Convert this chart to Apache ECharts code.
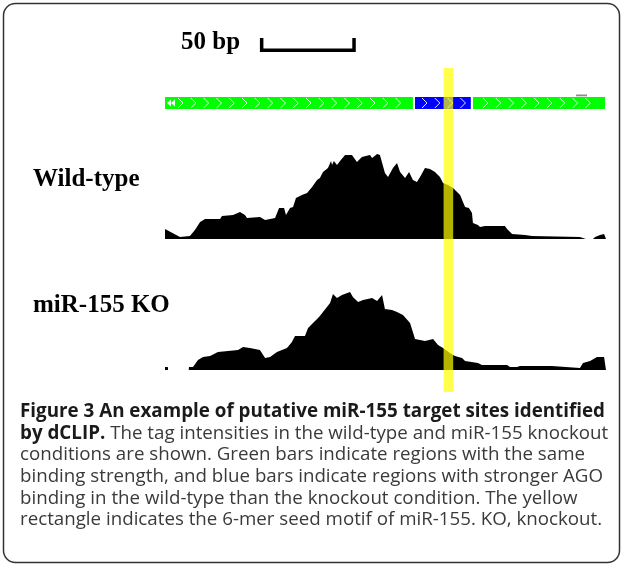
<!DOCTYPE html>
<html><head><meta charset="utf-8">
<script src="https://cdn.jsdelivr.net/npm/echarts@6/dist/echarts.min.js"></script>
<style>html,body{margin:0;padding:0;background:#fff}#c{width:624px;height:566px}</style>
</head><body><div id="c"></div>
<script>
// Region coordinates in bp (0–230), tag intensities (arbitrary units)
const wtPos = [0,7.8,13.0,15.6,18.3,20.9,28.7,29.7,35.5,39.1,41.7,42.8,49.5,52.2,57.4,59.5,62.1,63.1,65.2,66.8,68.3,71.4,74.1,76.7,79.3,80.8,82.4,85.0,86.6,87.1,88.1,89.7,91.3,93.9,97.5,100.1,102.7,106.9,108.0,110.6,112.1,114.7,116.3,118.9,121.0,122.6,125.2,127.3,129.3,131.4,133.0,135.6,138.2,140.8,143.4,145.0,147.6,150.2,153.9,155.4,156.5,158.5,160.1,160.6,163.2,164.3,166.9,177.3,178.4,181.0,187.8,191.4,216.4,219.5,223.2,224.3,226.9,229.0,230];
const wtTags = [10,2,3,9,17,20,20,23,24,27,24,21,22,19,21,31,31,24,31,32,41,44,46,52,59,61,67,71,78,74,78,74,78,84,84,77,82,84,81,85,84,66,62,71,76,67,61,67,59,57,62,71,70,67,62,56,54,51,44,37,32,31,26,16,14,12,13,13,10,5,4,3,2,0,0,2,4,5,5];
const koPos = [0,1.5,1.6,12.4,12.5,14.6,17.2,19.8,23.5,27.6,38.1,40.7,44.3,49.5,52.2,54.8,58.4,63.6,66.2,67.8,73.0,74.6,77.2,79.3,80.8,82.4,86.1,87.6,89.7,92.3,96.5,98.0,100.7,103.3,108.0,110.6,113.2,114.7,118.4,121.0,124.1,127.8,130.4,135.6,139.8,142.4,145.0,148.6,151.2,154.9,156.5,163.2,165.3,178.4,179.9,183.6,185.1,201.8,202.4,216.4,218.0,221.7,225.3,229.0,230];
const koTags = [3,3,0,0,3,3,10,13,14,18,20,23,22,20,12,13,18,22,28,34,34,42,47,51,54,58,67,76,72,75,78,73,68,70,72,69,75,61,60,58,55,47,31,29,31,25,22,17,14,12,9,7,5,5,3,3,4,4,3,2,7,9,13,13,13];
// dCLIP segments (bp): same binding = green, stronger in WT = blue
const segStart = [0, 130.4, 160.6];
const segEnd   = [129.3, 159.5, 229.5];
const segType  = ['same', 'stronger', 'same'];
const markerRange = [214.4, 220.1];
const seedRange = [145.3, 150.3];   // 6-mer seed motif
const scaleBar = [49.5, 99.5];      // 50 bp
const scaleLabel = '50 bp';
const trackLabels = ['Wild-type', 'miR-155 KO'];
const captionBold1 = 'Figure 3 An example of putative miR-155 target sites identified';
const captionBold2 = 'by dCLIP.';
const captionRest2 = ' The tag intensities in the wild-type and miR-155 knockout';
const captionLines = [
  'conditions are shown. Green bars indicate regions with the same',
  'binding strength, and blue bars indicate regions with stronger AGO',
  'binding in the wild-type than the knockout condition. The yellow',
  'rectangle indicates the 6-mer seed motif of miR-155. KO, knockout.'
];

const chart = echarts.init(document.getElementById('c'), null, {renderer: 'canvas'});
const GL = 165, GW = 441;
const grids = [
  {left: GL, width: GW, top: 139, height: 100},
  {left: GL, width: GW, top: 270, height: 100},
  {left: GL, width: GW, top: 97, height: 12},
  {left: GL, width: GW, top: 68, height: 324},
  {left: GL, width: GW, top: 38, height: 14}
];
const xAxes = grids.map((g, i) => ({type: 'value', gridIndex: i, min: 0, max: 230, show: false}));
const yAxes = grids.map((g, i) => ({type: 'value', gridIndex: i, min: 0, max: i < 2 ? 100 : 1, show: false}));

function zip(a, b) { return a.map((v, i) => [v, b[i]]); }

const ctx = document.createElement('canvas').getContext('2d');
function measure(font, t) { ctx.font = font; return ctx.measureText(t).width; }
const fR = '19px "Open Sans"', fB = 'bold 19px "Open Sans"';
const sxR = 565 / measure(fR, captionLines[0]);
const sxB = 585 / measure(fB, captionBold1);
const base0 = 417.5, lh = 21.7, off = 6;
const graphics = [];
graphics.push({type: 'rect', shape: {x: 3.5, y: 3.5, width: 616, height: 559, r: 12}, style: {fill: 'none', stroke: '#333', lineWidth: 1.5}, silent: true});
function txt(x, y, t, font, fill, sx) {
  graphics.push({type: 'text', x: x, y: y, scaleX: sx || 1, style: {text: t, font: font, fill: fill, align: 'left', verticalAlign: 'middle', textAlign: 'left', textVerticalAlign: 'middle'}, silent: true});
}
const serifB = 'bold 25px "Liberation Serif"';
txt(181, 43, scaleLabel, serifB, '#000');
txt(33, 180, trackLabels[0], serifB, '#000');
txt(33, 306, trackLabels[1], serifB, '#000');
txt(20, base0 - off, captionBold1, fB, '#1a1a1a', sxB);
txt(20, base0 + lh - off, captionBold2, fB, '#1a1a1a', sxB);
txt(20 + measure(fB, captionBold2) * sxB, base0 + lh - off, captionRest2, fR, '#3a3a3a', sxR);
captionLines.forEach((l, i) => txt(20, base0 + lh * (i + 2) - off, l, fR, '#3a3a3a', sxR));

const option = {
  animation: false,
  grid: grids, xAxis: xAxes, yAxis: yAxes,
  graphic: graphics,
  series: [
    {type: 'line', xAxisIndex: 0, yAxisIndex: 0, data: zip(wtPos, wtTags), symbol: 'none', lineStyle: {width: 0}, areaStyle: {color: '#000', opacity: 1}, z: 2},
    {type: 'line', xAxisIndex: 1, yAxisIndex: 1, data: zip(koPos, koTags), symbol: 'none', lineStyle: {width: 0}, areaStyle: {color: '#000', opacity: 1}, z: 2},
    {type: 'custom', xAxisIndex: 2, yAxisIndex: 2, z: 3,
      data: segStart.map((s, i) => [s, segEnd[i], segType[i] === 'stronger' ? 1 : 0]),
      renderItem: function (params, api) {
        const p0 = api.coord([api.value(0), 1]), p1 = api.coord([api.value(1), 0]);
        const x0 = p0[0], y0 = p0[1], x1 = p1[0], y1 = p1[1];
        const children = [{type: 'rect', shape: {x: x0, y: y0, width: x1 - x0, height: y1 - y0}, style: {fill: api.value(2) ? '#0000ff' : '#00ff00'}}];
        const ym = (y0 + y1) / 2;
        let cx;
        if (params.dataIndex === 0) {
          [x0 + 2, x0 + 6].forEach(ax => children.push({type: 'polygon', shape: {points: [[ax, ym], [ax + 4, ym - 3.5], [ax + 4, ym + 3.5]]}, style: {fill: '#fff'}}));
          cx = x0 + 13;
        } else {
          cx = x0 + (api.value(2) ? 7 : 10);
        }
        const step = 12.8;
        while (cx + 5 < x1 - 2) {
          children.push({type: 'polyline', shape: {points: [[cx, y0 + 1], [cx + 5, ym], [cx, y1 - 1]]}, style: {stroke: '#fff', lineWidth: 0.9, fill: null}});
          cx += step;
        }
        return {type: 'group', children: children};
      }
    },
    {type: 'custom', xAxisIndex: 2, yAxisIndex: 2, z: 3, data: [markerRange],
      renderItem: function (params, api) {
        const p0 = api.coord([api.value(0), 1]), p1 = api.coord([api.value(1), 1]);
        return {type: 'rect', shape: {x: p0[0], y: p0[1] - 2.5, width: p1[0] - p0[0], height: 1.8}, style: {fill: '#8c8c8c'}};
      }
    },
    {type: 'custom', xAxisIndex: 3, yAxisIndex: 3, z: 10, data: [seedRange],
      renderItem: function (params, api) {
        const p0 = api.coord([api.value(0), 1]), p1 = api.coord([api.value(1), 0]);
        return {type: 'rect', shape: {x: p0[0], y: p0[1], width: p1[0] - p0[0], height: p1[1] - p0[1]}, style: {fill: 'rgba(255,255,0,0.7)'}};
      }
    },
    {type: 'custom', xAxisIndex: 4, yAxisIndex: 4, z: 3, data: [scaleBar],
      renderItem: function (params, api) {
        const a = api.coord([api.value(0), 1]), b = api.coord([api.value(1), 0]);
        const w = 3.5, h = w / 2;
        return {type: 'polyline', shape: {points: [[a[0] + h, a[1]], [a[0] + h, b[1] - h], [b[0] - h, b[1] - h], [b[0] - h, a[1]]]}, style: {stroke: '#000', lineWidth: w, fill: null, lineJoin: 'miter'}};
      }
    }
  ]
};
chart.setOption(option);
</script>
</body></html>
